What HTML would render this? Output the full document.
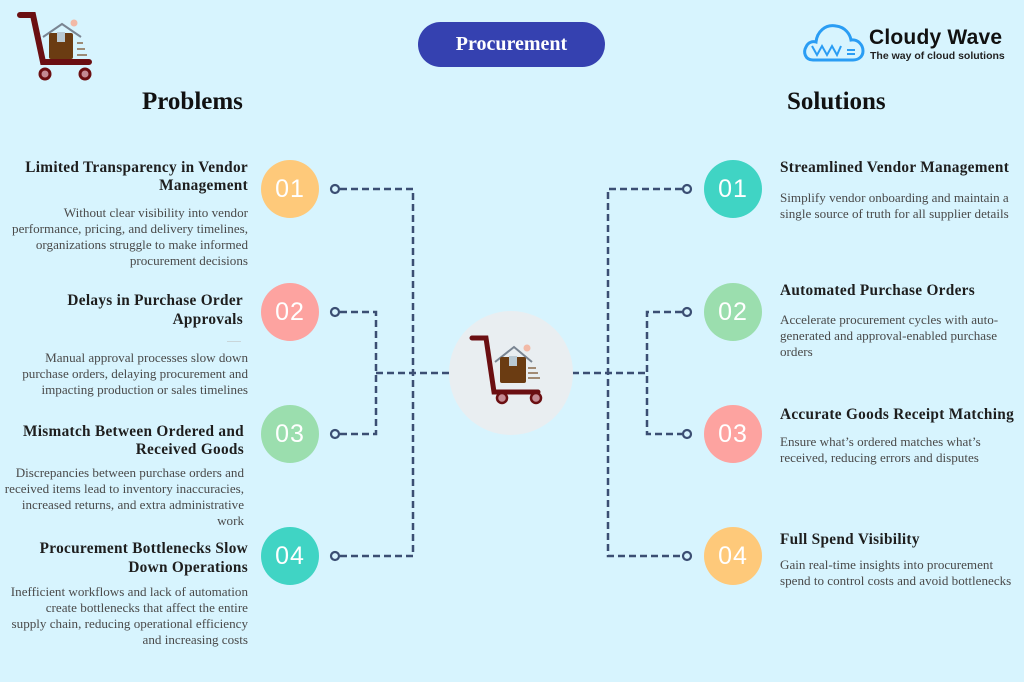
<!DOCTYPE html>
<html><head><meta charset="utf-8"><style>
*{margin:0;padding:0;box-sizing:border-box}
body{width:1024px;height:682px;background:#d7f4fe;position:relative;overflow:hidden;font-family:"Liberation Serif",serif;color:#222}
.a{position:absolute}
.t{font-weight:bold;font-size:15.3px;letter-spacing:.3px;color:#1e1e1e}
.b{font-size:13.1px;line-height:16px;color:#4a4a4a}
.L{text-align:right;right:776px;white-space:nowrap}
.R{left:780px;white-space:nowrap}
.c{position:absolute;width:58px;height:58px;border-radius:50%;color:#fff;font-family:"Liberation Sans",sans-serif;font-size:25px;line-height:58px;text-align:center;letter-spacing:1px}
</style></head><body>

<svg class="a" style="left:0;top:0" width="1024" height="682">
 <g stroke="#3b4e73" stroke-width="2.5" fill="none" stroke-dasharray="7,4">
  <path d="M340 189H413V556H340"/>
  <path d="M340 312H376V434H340"/>
  <path d="M376 373H450"/>
  <path d="M682 189H608V556H682"/>
  <path d="M682 312H647V434H682"/>
  <path d="M572 373H647"/>
 </g>
 <g stroke="#3b4e73" stroke-width="2.2" fill="#d7f4fe">
  <circle cx="335" cy="189" r="4"/><circle cx="335" cy="312" r="4"/><circle cx="335" cy="434" r="4"/><circle cx="335" cy="556" r="4"/>
  <circle cx="687" cy="189" r="4"/><circle cx="687" cy="312" r="4"/><circle cx="687" cy="434" r="4"/><circle cx="687" cy="556" r="4"/>
 </g>
 <circle cx="511" cy="373" r="62" fill="#e9eef1"/>
 <g transform="translate(470,332)">
  <path d="M2 6H16L24 60H68" stroke="#6b0f12" stroke-width="5" fill="none" stroke-linecap="round"/>
  <circle cx="32" cy="66" r="5" fill="#c48a93" stroke="#6b0f12" stroke-width="2.5"/>
  <circle cx="66" cy="66" r="5" fill="#c48a93" stroke="#6b0f12" stroke-width="2.5"/>
  <path d="M25 30L44 15L62 30" stroke="#7a8592" stroke-width="2" fill="none"/>
  <rect x="30" y="25" width="26" height="26" fill="#6b3c12" rx="2"/>
  <rect x="39" y="24" width="8" height="10" fill="#b9c9d3"/>
  <path d="M58 36h8M58 41h10M58 46h12" stroke="#8a6a4a" stroke-width="1.5"/>
  <circle cx="57" cy="16" r="3.5" fill="#f2b9a6"/>
 </g>
 <g transform="translate(17,12)">
  <path d="M3 3H16L26 50H72" stroke="#6b0f12" stroke-width="6" fill="none" stroke-linecap="round"/>
  <circle cx="28" cy="62" r="5" fill="#c48a93" stroke="#6b0f12" stroke-width="3"/>
  <circle cx="68" cy="62" r="5" fill="#c48a93" stroke="#6b0f12" stroke-width="3"/>
  <path d="M26 25L45 12L64 25" stroke="#7a8592" stroke-width="2" fill="none"/>
  <rect x="32" y="21" width="24" height="26" fill="#6b3c12" rx="2"/>
  <rect x="40" y="20" width="8" height="10" fill="#b9c9d3"/>
  <path d="M60 31h6M60 37h8M60 43h10" stroke="#8a6a4a" stroke-width="1.5"/>
  <circle cx="57" cy="11" r="3.5" fill="#f2b9a6"/>
 </g>
 <g transform="translate(803,18)" fill="none" stroke="#2a9df4" stroke-width="3">
  <path d="M10 42C2 42 0 34 3 29C5 24 10 23 13 24C14 14 22 6 33 8C42 9 47 16 48 22C55 21 60 27 60 33C60 39 55 42 50 42Z"/>
  <path d="M9 28L14 37L19 28L24 37L29 28L34 37L38 28" stroke-width="2"/>
  <path d="M44 32h8M44 36h8" stroke-width="2"/>
 </g>
</svg>

<div class="a" style="left:418px;top:22px;width:187px;height:45px;border-radius:23px;background:#3541b0;color:#fff;font-weight:bold;font-size:20px;text-align:center;line-height:45px">Procurement</div>

<div class="a" style="left:869px;top:26px;font-family:'Liberation Sans',sans-serif;font-size:21px;font-weight:bold;color:#111;letter-spacing:.2px">Cloudy Wave</div>
<div class="a" style="left:870px;top:50px;font-family:'Liberation Sans',sans-serif;font-size:10.5px;font-weight:bold;color:#222">The way of cloud solutions</div>

<div class="a" style="left:142px;top:88px;font-weight:bold;font-size:25px;color:#111">Problems</div>
<div class="a" style="left:787px;top:88px;font-weight:bold;font-size:25px;color:#111">Solutions</div>

<div class="c" style="left:261px;top:160px;background:#fec97a">01</div>
<div class="c" style="left:261px;top:283px;background:#fda3a0">02</div>
<div class="c" style="left:261px;top:405px;background:#9bdeae">03</div>
<div class="c" style="left:261px;top:527px;background:#40d4c4">04</div>
<div class="c" style="left:704px;top:160px;background:#40d4c4">01</div>
<div class="c" style="left:704px;top:283px;background:#9bdeae">02</div>
<div class="c" style="left:704px;top:405px;background:#fda3a0">03</div>
<div class="c" style="left:704px;top:527px;background:#fec97a">04</div>

<div class="a L t" style="top:159px;line-height:18px">Limited Transparency in Vendor<br>Management</div>
<div class="a L b" style="top:205px">Without clear visibility into vendor<br>performance, pricing, and delivery timelines,<br>organizations struggle to make informed<br>procurement decisions</div>

<div class="a L t" style="top:291px;line-height:19px;right:781px">Delays in Purchase Order<br>Approvals</div>
<div class="a" style="left:227px;top:341px;width:14px;height:1px;background:#c9d6da"></div>
<div class="a L b" style="top:350px">Manual approval processes slow down<br>purchase orders, delaying procurement and<br>impacting production or sales timelines</div>

<div class="a L t" style="top:423px;line-height:18px;right:780px">Mismatch Between Ordered and<br>Received Goods</div>
<div class="a L b" style="top:465px;right:780px">Discrepancies between purchase orders and<br>received items lead to inventory inaccuracies,<br>increased returns, and extra administrative<br>work</div>

<div class="a L t" style="top:539px;line-height:19px">Procurement Bottlenecks Slow<br>Down Operations</div>
<div class="a L b" style="top:584px">Inefficient workflows and lack of automation<br>create bottlenecks that affect the entire<br>supply chain, reducing operational efficiency<br>and increasing costs</div>

<div class="a R t" style="top:159px;line-height:18px">Streamlined Vendor Management</div>
<div class="a R b" style="top:190px">Simplify vendor onboarding and maintain a<br>single source of truth for all supplier details</div>

<div class="a R t" style="top:282px;line-height:18px">Automated Purchase Orders</div>
<div class="a R b" style="top:312px">Accelerate procurement cycles with auto-<br>generated and approval-enabled purchase<br>orders</div>

<div class="a R t" style="top:406px;line-height:18px">Accurate Goods Receipt Matching</div>
<div class="a R b" style="top:434px">Ensure what’s ordered matches what’s<br>received, reducing errors and disputes</div>

<div class="a R t" style="top:531px;line-height:18px">Full Spend Visibility</div>
<div class="a R b" style="top:557px">Gain real-time insights into procurement<br>spend to control costs and avoid bottlenecks</div>

</body></html>
